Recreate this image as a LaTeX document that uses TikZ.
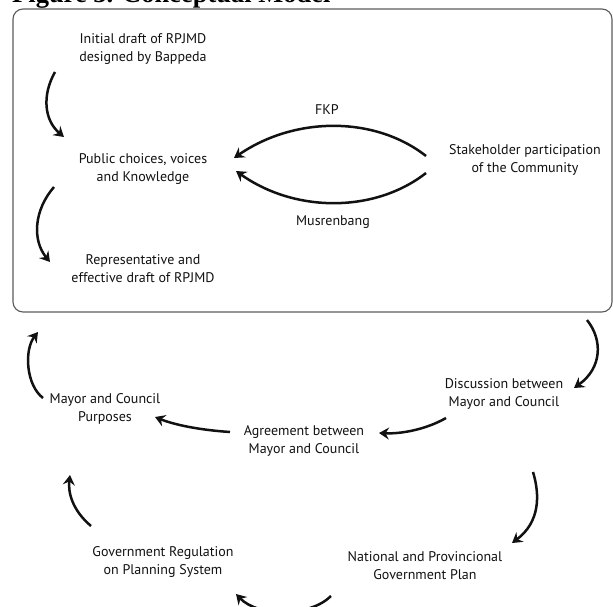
\documentclass[tikz,border=0pt]{standalone}
\usepackage{fontspec}
\setmainfont{PT Sans}
\newfontfamily\titlefont{Liberation Serif}
\usetikzlibrary{arrows.meta, positioning}
\definecolor{frameGray}{HTML}{5A5A5A}
\definecolor{inkBlack}{HTML}{111111}

\begin{document}
\begin{tikzpicture}[
    x=1pt, y=-1pt,
    stagetext/.style={
        font=\fontsize{14}{18}\selectfont,
        align=center, inner sep=0pt, text=inkBlack
    },
    flowarrow/.style={
        -{Stealth[length=10pt,width=12pt,inset=3.5pt]},
        inkBlack, line width=2.5pt
    },
]
\useasboundingbox (0,0) rectangle (613,607);

% ============================================================
%  TITLE AND FRAME
% ============================================================
\node[anchor=base west, inner sep=0pt,
      font=\titlefont\bfseries\fontsize{26.5}{30}\selectfont] (title) at (12,3)
    {Figure 3. Conceptual Model};

\draw[frameGray, line width=1.1pt, rounded corners=10pt] (13,9) rectangle (612,312);

% ============================================================
%  INSIDE THE FRAME
% ============================================================
\node[stagetext] (initDraft) at (143,49)
    {Initial draft of RPJMD\\designed by Bappeda};
\node[stagetext, on grid, below=120pt of initDraft] (publicVoice)
    {Public choices, voices\\and Knowledge};
\node[stagetext, on grid, below=100pt of publicVoice] (reprDraft)
    {Representative and\\effective draft of RPJMD};

\node[stagetext] (stakeholder) at (525,160)
    {Stakeholder participation\\of the Community};
\node[stagetext] (fkp) at (327,110) {FKP};
\node[stagetext] (musren) at (333,222) {Musrenbang};

\coordinate (initOut) at (55,72);
\coordinate (publicIn) at (64,137);
\coordinate (publicOut) at (54,187);
\coordinate (reprIn) at (50,262);
\coordinate (stakeTop) at (426,156);
\coordinate (stakeBot) at (426,173);
\coordinate (publicTop) at (234,158);
\coordinate (publicBot) at (236,171);

\draw[flowarrow] (initOut) .. controls (42,95) and (44,120) .. (publicIn);
\draw[flowarrow] (publicOut) .. controls (34,210) and (32,240) .. (reprIn);
\draw[flowarrow] (stakeTop) .. controls (375,116) and (295,116) .. (publicTop);
\draw[flowarrow] (stakeBot) .. controls (375,213) and (295,213) .. (publicBot);

% ============================================================
%  OUTER CYCLE
% ============================================================
\node[stagetext] (discussion) at (504,394)
    {Discussion between\\Mayor and Council};
\node[stagetext] (agreement) at (304,441)
    {Agreement between\\Mayor and Council};
\node[stagetext] (purposes) at (105,409)
    {Mayor and Council\\Purposes};
\node[stagetext] (nationalPlan) at (425,566)
    {National and Provincional\\Government Plan};
\node[stagetext] (govRegulation) at (163,562)
    {Government Regulation\\on Planning System};

\coordinate (frameOut) at (587,320);
\coordinate (discIn) at (574,388);
\coordinate (discOut) at (446,418);
\coordinate (agreeIn) at (379,433);
\coordinate (agreeOut) at (230,432);
\coordinate (purpIn) at (155,417);
\coordinate (purpOut) at (43,398);
\coordinate (frameIn) at (38,332);
\coordinate (agreeDown) at (533,472);
\coordinate (natIn) at (512,543);
\coordinate (natOut) at (331,596);
\coordinate (regIn) at (236,594);
\coordinate (regOut) at (91,526);
\coordinate (purpUp) at (70,475);

\draw[flowarrow] (frameOut) .. controls (603,340) and (602,368) .. (discIn);
\draw[flowarrow] (discOut) .. controls (425,430) and (400,434) .. (agreeIn);
\draw[flowarrow] (agreeOut) .. controls (200,430) and (175,425) .. (purpIn);
\draw[flowarrow] (purpOut) .. controls (26,385) and (24,350) .. (frameIn);
\draw[flowarrow] (agreeDown) .. controls (540,495) and (540,522) .. (natIn);
\draw[flowarrow] (natOut) .. controls (310,617) and (258,617) .. (regIn);
\draw[flowarrow] (regOut) .. controls (72,510) and (68,492) .. (purpUp);

\end{tikzpicture}
\end{document}
